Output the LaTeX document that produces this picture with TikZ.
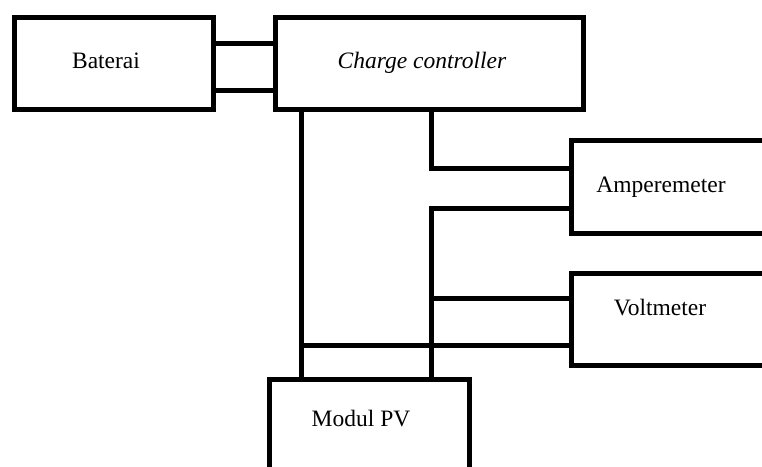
\documentclass[tikz,border=0pt]{standalone}
\usepackage{fontspec}
\setmainfont{Liberation Serif}
\begin{document}
\begin{tikzpicture}[x=1pt, y=-1pt,
    kasten/.style={draw, line width=5pt, inner sep=0pt, minimum height=92pt},
    schrift/.style={anchor=base, inner sep=0pt, font=\fontsize{23.5}{28}\selectfont},
    leitung/.style={line width=5pt}]
    \useasboundingbox (0,0) rectangle (762,466);
    \clip (0,0) rectangle (762,466);

    % Kaesten
    \node[kasten, minimum width=199pt] (bat) at (114,63.5) {};
    \node[kasten, minimum width=308pt] (cc) at (429.5,63.5) {};
    \node[kasten, minimum width=300pt, minimum height=93pt, anchor=west] (amp) at (568.5,187) {};
    \node[kasten, minimum width=300pt, anchor=west] (volt) at (568.5,319.5) {};
    \node[kasten, minimum width=200pt, minimum height=150pt, anchor=north] (pv) at (369.5,376.5) {};

    % Beschriftung
    \node[schrift] (tbat) at (106,68) {Baterai};
    \node[schrift] (tcc) at (422,68) {\textit{Charge controller}};
    \node[schrift] (tamp) at (661,192) {Amperemeter};
    \node[schrift] (tvolt) at (660,315) {Voltmeter};
    \node[schrift] (tpv) at (361,426) {Modul PV};

    % Knoten auf den Leitungen
    \coordinate (k1) at (431,298);
    \coordinate (k2) at (301,345);

    % Baterai - Charge controller
    \draw[leitung] (bat.east |- 0,43) -- (cc.west |- 0,43);
    \draw[leitung] (bat.east |- 0,90) -- (cc.west |- 0,90);

    % Charge controller - Modul PV
    \draw[leitung] (cc.south -| k2) -- (pv.north -| k2);

    % Amperemeter
    \draw[leitung] (cc.south -| k1) |- (amp.west |- 0,168);
    \draw[leitung] (amp.west |- 0,208) -| (pv.north -| k1);

    % Voltmeter
    \draw[leitung] (k1) -- (volt.west |- k1);
    \draw[leitung] (k2) -- (volt.west |- k2);
\end{tikzpicture}
\end{document}
